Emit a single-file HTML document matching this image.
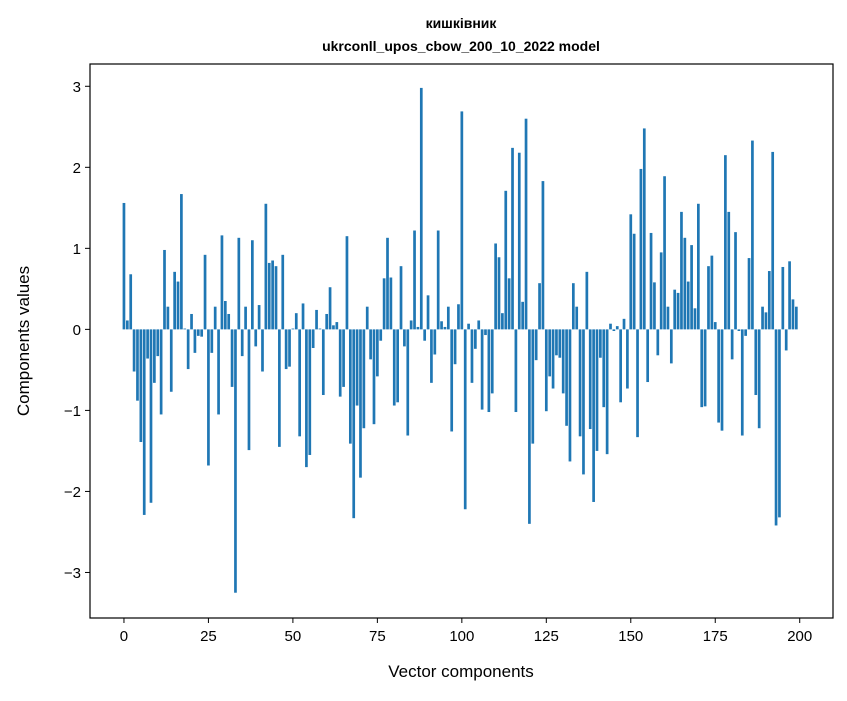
<!DOCTYPE html>
<html><head><meta charset="utf-8"><style>
body{margin:0;background:#fff;}
svg text{font-family:"Liberation Sans",sans-serif;fill:#000;}
</style></head><body>
<svg id="chart" width="847" height="696" xmlns="http://www.w3.org/2000/svg">
<rect width="847" height="696" fill="#fff"/>
<text x="461" y="28" text-anchor="middle" font-size="14" font-weight="bold">кишківник</text>
<text x="461" y="51" text-anchor="middle" font-size="14" font-weight="bold">ukrconll_upos_cbow_200_10_2022 model</text>
<g id="bars"></g>
<g id="xticks"></g>
<g id="yticks"></g>
<rect x="90" y="64" width="743" height="554" fill="none" stroke="#000" stroke-width="1.2"/>
<text x="461" y="677" text-anchor="middle" font-size="17">Vector components</text>
<text transform="translate(29,341) rotate(-90)" text-anchor="middle" font-size="17">Components values</text>
</svg>
<script>
const values = [1.56,0.11,0.68,-0.52,-0.88,-1.39,-2.29,-0.36,-2.14,-0.66,
-0.33,-1.05,0.98,0.28,-0.77,0.71,0.59,1.67,0.01,-0.49,
0.19,-0.29,-0.08,-0.09,0.92,-1.68,-0.29,0.28,-1.05,1.16,
0.35,0.19,-0.71,-3.25,1.13,-0.33,0.28,-1.49,1.1,-0.21,
0.3,-0.52,1.55,0.82,0.85,0.78,-1.45,0.92,-0.49,-0.46,
0.01,0.2,-1.32,0.32,-1.7,-1.55,-0.23,0.24,0.01,-0.81,
0.19,0.52,0.05,0.09,-0.83,-0.71,1.15,-1.41,-2.33,-0.94,
-1.83,-1.22,0.28,-0.37,-1.17,-0.58,-0.14,0.63,1.13,0.64,
-0.94,-0.9,0.78,-0.21,-1.31,0.11,1.22,0.03,2.98,-0.14,
0.42,-0.66,-0.31,1.22,0.1,0.03,0.28,-1.26,-0.43,0.31,
2.69,-2.22,0.07,-0.66,-0.24,0.11,-0.99,-0.07,-1.02,-0.79,
1.06,0.89,0.2,1.71,0.63,2.24,-1.02,2.18,0.34,2.6,
-2.4,-1.41,-0.38,0.57,1.83,-1.01,-0.58,-0.73,-0.32,-0.35,
-0.79,-1.19,-1.63,0.57,0.28,-1.32,-1.79,0.71,-1.23,-2.13,
-1.5,-0.35,-0.96,-1.54,0.07,-0.02,0.04,-0.9,0.13,-0.73,
1.42,1.18,-1.33,1.98,2.48,-0.65,1.19,0.58,-0.32,0.95,
1.89,0.28,-0.42,0.49,0.45,1.45,1.13,0.59,1.04,0.26,
1.55,-0.96,-0.95,0.78,0.91,0.09,-1.15,-1.25,2.15,1.45,
-0.37,1.2,-0.02,-1.31,-0.08,0.88,2.33,-0.81,-1.22,0.28,
0.21,0.72,2.19,-2.42,-2.32,0.77,-0.26,0.84,0.37,0.28];
const xTickLabels = [0,25,50,75,100,125,150,175,200];
const yTickLabels = [-3,-2,-1,0,1,2,3];
const NS='http://www.w3.org/2000/svg';
const X0=90,X1=833,Y0=64,Y1=618;
const xMin=-10.05,xMax=209.85,yMin=-3.562,yMax=3.275;
function xs(v){return X0+(v-xMin)/(xMax-xMin)*(X1-X0);}
function ys(v){return Y1-(v-yMin)/(yMax-yMin)*(Y1-Y0);}
const bars=document.getElementById('bars');
values.forEach((v,i)=>{
  const r=document.createElementNS(NS,'rect');
  
  
  const xl=xs(i-0.4),xr=xs(i+0.4);
  const y=Math.min(ys(v),ys(0)),h=Math.abs(ys(v)-ys(0));
  r.setAttribute('x',xl);r.setAttribute('width',xr-xl);
  r.setAttribute('y',y);r.setAttribute('height',Math.max(h,0.3));
  r.setAttribute('fill','#1f77b4');
  bars.appendChild(r);
});
const xg=document.getElementById('xticks');
xTickLabels.forEach(t=>{
  const l=document.createElementNS(NS,'line');
  
  
  l.setAttribute('x1',xs(t));l.setAttribute('x2',xs(t));l.setAttribute('y1',Y1);l.setAttribute('y2',Y1+5);
  l.setAttribute('stroke','#000');
  xg.appendChild(l);
  const tx=document.createElementNS(NS,'text');
  
  
  tx.setAttribute('x',xs(t));tx.setAttribute('y',Y1+23);
  tx.setAttribute('text-anchor','middle');tx.setAttribute('font-size','15');
  tx.textContent=t;
  xg.appendChild(tx);
});
const yg=document.getElementById('yticks');
yTickLabels.forEach(t=>{
  const l=document.createElementNS(NS,'line');
  
  
  l.setAttribute('x1',X0-5);l.setAttribute('x2',X0);l.setAttribute('y1',ys(t));l.setAttribute('y2',ys(t));
  l.setAttribute('stroke','#000');
  yg.appendChild(l);
  const tx=document.createElementNS(NS,'text');
  
  
  tx.setAttribute('x',X0-9);tx.setAttribute('y',ys(t)+5.5);
  tx.setAttribute('text-anchor','end');tx.setAttribute('font-size','15');
  tx.textContent=t<0?'\u2212'+Math.abs(t):String(t);
  yg.appendChild(tx);
});
</script>
</body></html>
